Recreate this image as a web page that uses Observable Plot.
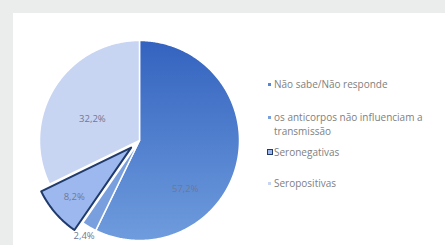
<!DOCTYPE html>
<html><head><meta charset="utf-8">
<script src="https://cdn.jsdelivr.net/npm/d3@7"></script>
<script src="https://cdn.jsdelivr.net/npm/@observablehq/plot@0.6"></script>
<style>
html,body{margin:0;padding:0;background:#ebedec;width:445px;height:245px;overflow:hidden;font-family:"Open Sans","Liberation Sans",Arial,sans-serif;}
#panel{position:absolute;left:13px;top:13px;width:432px;height:232px;background:#fff;}
#chart{position:absolute;left:0;top:0;}
#legend{position:absolute;left:0;top:0;width:445px;height:245px;pointer-events:none;font-size:10px;color:#808080;}
.li{position:absolute;line-height:14px;white-space:nowrap;}
.mk{display:inline-block;width:3px;height:3px;margin-right:3px;vertical-align:middle;position:relative;top:-1px;}
</style></head>
<body>
<div id="panel"></div>
<div id="chart"></div>
<div id="legend"></div>
<script>
const categories = ["Não sabe/Não responde", "os anticorpos não influenciam a transmissão", "Seronegativas", "Seropositivas"];
const values = [57.2, 2.4, 8.2, 32.2];
const valueLabels = ["57,2%", "2,4%", "8,2%", "32,2%"];
const fills = ["url(#grad0)", "#7a9fdf", "#9db8ef", "#c7d4f2"];
const legendColors = ["#5a86cf", "#7a9fdf", "#9db8ef", "#c7d4f2"];
const explode = [0, 0, 0.11, 0];
const labelRadius = [0.67, 1.1, 0.75, 0.52];
const labelFrac = [0.665, 0.5, 0.5, 0.44];

const pie = d3.pie().sort(null).value(d => d)(values);
const polys = [];
const labels = [];
pie.forEach((p, i) => {
  const mid = (p.startAngle + p.endAngle) / 2;
  const ox = explode[i] * Math.sin(mid), oy = explode[i] * Math.cos(mid);
  polys.push({k: i, x: ox, y: oy});
  const n = Math.max(4, Math.ceil((p.endAngle - p.startAngle) / 0.01));
  for (let j = 0; j <= n; j++) {
    const a = p.startAngle + (p.endAngle - p.startAngle) * j / n;
    polys.push({k: i, x: ox + Math.sin(a), y: oy + Math.cos(a)});
  }
  polys.push({k: i, x: ox, y: oy});
  const la = p.startAngle + (p.endAngle - p.startAngle) * labelFrac[i];
  labels.push({x: ox + labelRadius[i] * Math.sin(la), y: oy + labelRadius[i] * Math.cos(la), t: valueLabels[i]});
});

const cx = 139, cy = 140, r = 100;
const defs = () => {
  const d = d3.create("svg:defs");
  const g = d.append("linearGradient").attr("id", "grad0").attr("x1", 0).attr("y1", 0).attr("x2", 0).attr("y2", 1);
  g.append("stop").attr("offset", "0%").attr("stop-color", "#3363bf");
  g.append("stop").attr("offset", "100%").attr("stop-color", "#6f9cdd");
  return d.node();
};

const plot = Plot.plot({
  width: 445, height: 245,
  style: {background: "transparent", overflow: "visible"},
  x: {domain: [-1, 1], range: [cx - r, cx + r], axis: null},
  y: {domain: [-1, 1], range: [cy + r, cy - r], axis: null},
  marks: [
    defs,
    ...[0, 1, 3, 2].map(i => Plot.line(polys.filter(d => d.k === i), {
      x: "x", y: "y", fill: fills[i],
      stroke: i === 2 ? "#1f3a6b" : "#ffffff",
      strokeWidth: i === 2 ? 2 : 1.5, strokeLinejoin: "round"
    })),
    Plot.text(labels, {x: "x", y: "y", text: "t", fill: "#717890", fontSize: 9.5, fontFamily: "Open Sans, Liberation Sans, Arial, sans-serif"})
  ]
});
document.getElementById("chart").appendChild(plot);

const leg = document.getElementById("legend");
const rows = [
  {i: 0, top: 77, left: 268},
  {i: 1, top: 111, left: 268},
  {i: 2, top: 145, left: 267},
  {i: 3, top: 176, left: 268}
];
rows.forEach(({i, top, left}) => {
  const div = document.createElement("div");
  div.className = "li";
  div.style.top = top + "px";
  div.style.left = left + "px";
  const mk = document.createElement("span");
  mk.className = "mk";
  mk.style.background = legendColors[i];
  if (i === 2) { mk.style.width = "4px"; mk.style.height = "4px"; mk.style.border = "1px solid #1f3a6b"; mk.style.marginRight = "1px"; }
  div.appendChild(mk);
  if (i === 1) {
    div.style.lineHeight = "13.5px";
    div.appendChild(document.createTextNode("os anticorpos não influenciam a"));
    div.appendChild(document.createElement("br"));
    const s = document.createElement("span");
    s.style.paddingLeft = "6px";
    s.textContent = "transmissão";
    div.appendChild(s);
  } else {
    div.appendChild(document.createTextNode(categories[i]));
  }
  leg.appendChild(div);
});
</script>
</body></html>
